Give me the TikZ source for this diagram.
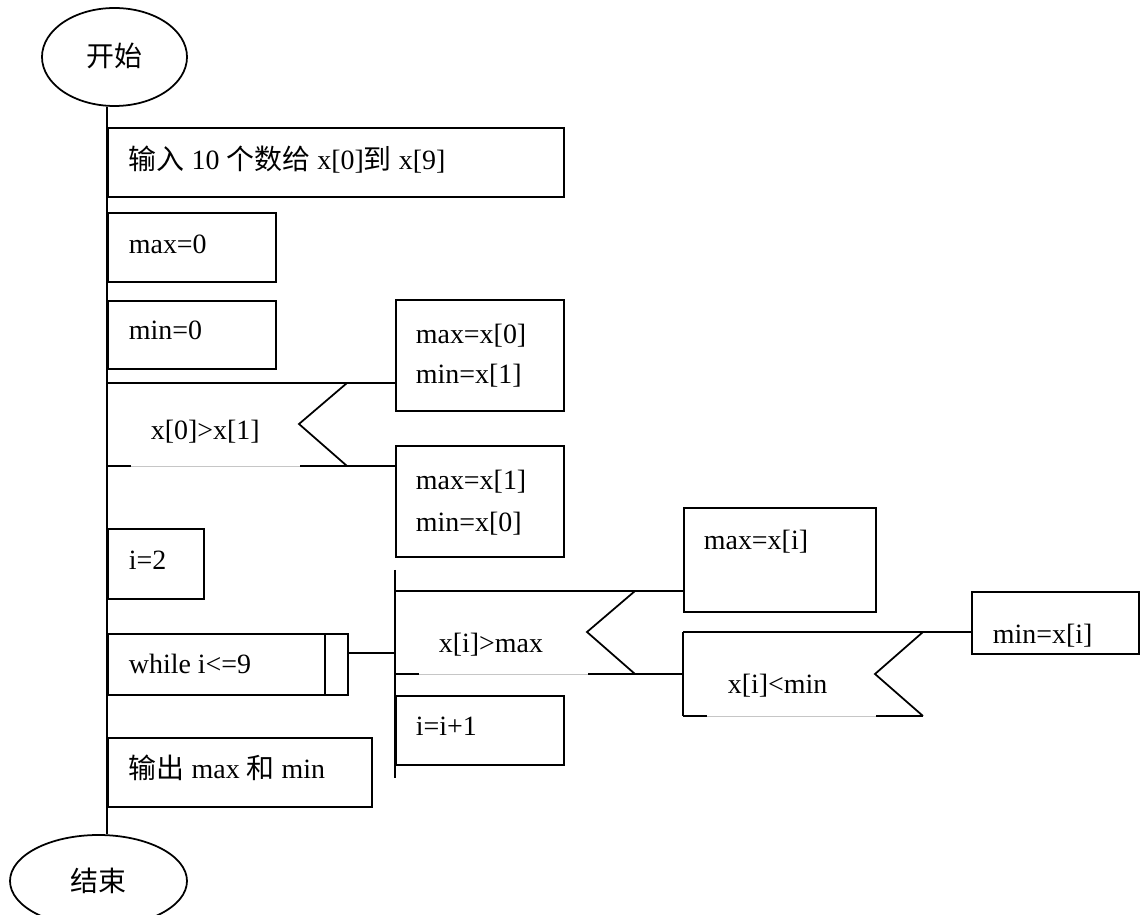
\documentclass[tikz,border=0pt]{standalone}
\usepackage{fontspec}
\setmainfont{Liberation Serif}
\newfontfamily\cjk{Noto Sans CJK SC}
\usetikzlibrary{shapes.geometric}
\newlength{\pxu}
\setlength{\pxu}{0.02cm}

\begin{document}
\begin{tikzpicture}[x=0.02cm, y=-0.02cm, line width=1pt,
  box/.style={draw, rectangle, anchor=north west, inner sep=0pt},
  term/.style={draw, ellipse, inner sep=0pt},
  txt/.style={anchor=base west, inner sep=0pt, font=\fontsize{15.9}{19}\selectfont},
  faint/.style={draw=gray!45, line width=0.4pt}]
\useasboundingbox (0,0) rectangle (1140,915);
% start / stop
\node[term, minimum width=145\pxu, minimum height=98\pxu, font=\fontsize{15.9}{19}\selectfont] (start) at (114.5,57) {\cjk\raisebox{4\pxu}{开始}};
\node[term, minimum width=177\pxu, minimum height=92\pxu, font=\fontsize{15.9}{19}\selectfont] (stop) at (98.5,881) {\cjk 结束};
% main column
\node[box, minimum width=456\pxu, minimum height=69\pxu] (input) at (107,127) {};
\node[txt] (t_input) at (128,170) {{\cjk 输入} 10 {\cjk 个数给} x[0]{\cjk 到} x[9]};
\node[box, minimum width=168\pxu, minimum height=69\pxu] (maxinit) at (107,212) {};
\node[txt] (t_maxinit) at (128,254) {max=0};
\node[box, minimum width=168\pxu, minimum height=68\pxu] (mininit) at (107,300) {};
\node[txt] (t_mininit) at (128,340) {min=0};
\node[box, minimum width=96\pxu, minimum height=70\pxu] (iinit) at (107,528) {};
\node[txt] (t_iinit) at (128,570) {i=2};
\node[box, minimum width=240\pxu, minimum height=61\pxu] (loop) at (107,633) {};
\draw ([xshift=-24\pxu]loop.north east) -- ([xshift=-24\pxu]loop.south east);
\node[txt] (t_loop) at (128,673) {while i<=9};
\node[box, minimum width=264\pxu, minimum height=69\pxu] (output) at (107,737) {};
\node[txt] (t_output) at (128,778) {{\cjk 输出} max {\cjk 和} min};
\draw (start.south -| input.west) -- (stop.north -| input.west);
% first choice
\node[box, minimum width=168\pxu, minimum height=111\pxu] (swapyes) at (395,299) {};
\node[txt] (t_yes1) at (415,344) {max=x[0]};
\node[txt] (t_yes2) at (415,384) {min=x[1]};
\node[box, minimum width=168\pxu, minimum height=111\pxu] (swapno) at (395,445) {};
\node[txt] (t_no1) at (415,490) {max=x[1]};
\node[txt] (t_no2) at (415,532) {min=x[0]};
\coordinate (c1t) at (107,383);
\coordinate (c1b) at (107,466);
\draw (c1t) -- (c1t -| swapyes.west);
\draw (347,383) -- (299,424) -- (347,466);
\draw (c1b) -- (131,466);
\draw[faint] (131,466) -- (300,466);
\draw (300,466) -- (c1b -| swapno.west);
\node[txt] (t_cond1) at (150,440) {x[0]>x[1]};
% loop body
\coordinate (s2t) at (395,570);
\coordinate (s2b) at (395,778);
\coordinate (c2w) at (395,653);
\draw (s2t) -- (s2b);
\draw (c2w -| loop.east) -- (c2w);
\node[box, minimum width=168\pxu, minimum height=69\pxu] (inc) at (395,695) {};
\node[txt] (t_inc) at (415,735) {i=i+1};
\node[box, minimum width=192\pxu, minimum height=104\pxu] (setmax) at (683,507) {};
\node[txt] (t_setmax) at (703,550) {max=x[i]};
\node[box, minimum width=167\pxu, minimum height=62\pxu] (setmin) at (971,591) {};
\node[txt] (t_setmin) at (992,643) {min=x[i]};
% second choice
\coordinate (c2t) at (395,591);
\coordinate (c2b) at (395,674);
\coordinate (c3t) at (683,632);
\coordinate (c3b) at (683,716);
\draw (c2t) -- (c2t -| setmax.west);
\draw (635,591) -- (587,632) -- (635,674);
\draw (c2b) -- (419,674);
\draw[faint] (419,674) -- (588,674);
\draw (588,674) -- (c2b -| c3t);
\node[txt] (t_cond2) at (438,652) {x[i]>max};
% third choice
\draw (c3t) -- (c3b);
\draw (c3t) -- (c3t -| setmin.west);
\draw (923,632) -- (875,674) -- (923,716);
\draw (c3b) -- (707,716);
\draw[faint] (707,716) -- (876,716);
\draw (876,716) -- (923,716);
\node[txt] (t_cond3) at (727,693) {x[i]<min};
\end{tikzpicture}
\end{document}
